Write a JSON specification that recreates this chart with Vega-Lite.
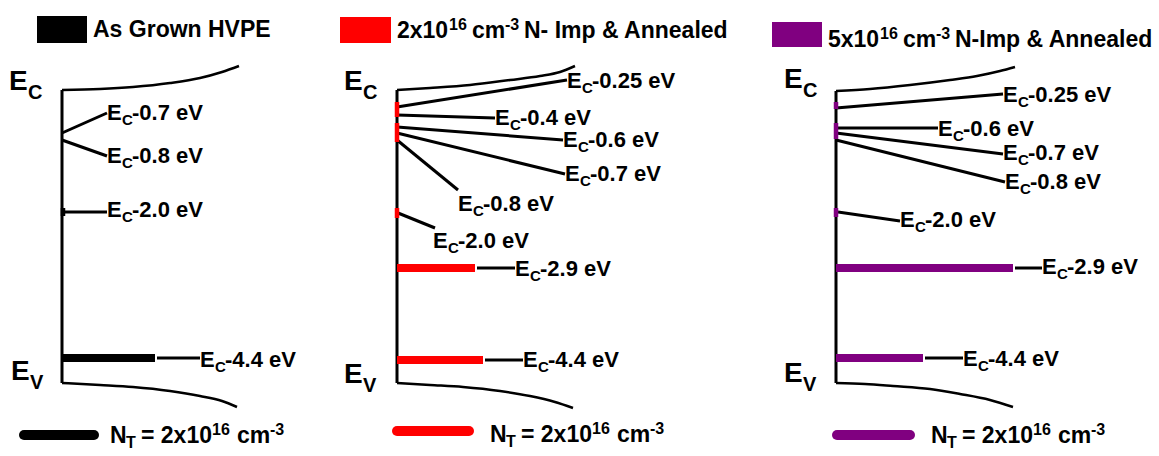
{
  "$schema": "https://vega.github.io/schema/vega-lite/v6.json",
  "width": 1159,
  "height": 456,
  "autosize": {"type": "fit", "contains": "padding"},
  "padding": 0,
  "background": "white",
  "config": {
    "view": {"stroke": null},
    "text": {"font": "Liberation Sans", "fontWeight": "bold", "fontSize": 23, "baseline": "alphabetic", "align": "left", "color": "black"}
  },
  "datasets": {
    "curves": [
      {"sample": "as-grown", "curve": "ag-c", "x": 62, "y": 90},
      {"sample": "as-grown", "curve": "ag-c", "x": 100, "y": 89},
      {"sample": "as-grown", "curve": "ag-c", "x": 133, "y": 87},
      {"sample": "as-grown", "curve": "ag-c", "x": 170, "y": 83},
      {"sample": "as-grown", "curve": "ag-c", "x": 200, "y": 78},
      {"sample": "as-grown", "curve": "ag-c", "x": 222, "y": 72},
      {"sample": "as-grown", "curve": "ag-c", "x": 239, "y": 66},
      {"sample": "as-grown", "curve": "ag-v", "x": 62, "y": 383},
      {"sample": "as-grown", "curve": "ag-v", "x": 100, "y": 385},
      {"sample": "as-grown", "curve": "ag-v", "x": 133, "y": 387},
      {"sample": "as-grown", "curve": "ag-v", "x": 170, "y": 391},
      {"sample": "as-grown", "curve": "ag-v", "x": 200, "y": 396},
      {"sample": "as-grown", "curve": "ag-v", "x": 222, "y": 401},
      {"sample": "as-grown", "curve": "ag-v", "x": 237, "y": 407},
      {"sample": "2e16", "curve": "n2-c", "x": 397, "y": 90},
      {"sample": "2e16", "curve": "n2-c", "x": 430, "y": 88},
      {"sample": "2e16", "curve": "n2-c", "x": 470, "y": 85},
      {"sample": "2e16", "curve": "n2-c", "x": 510, "y": 80},
      {"sample": "2e16", "curve": "n2-c", "x": 540, "y": 76},
      {"sample": "2e16", "curve": "n2-c", "x": 560, "y": 72},
      {"sample": "2e16", "curve": "n2-c", "x": 575, "y": 66},
      {"sample": "2e16", "curve": "n2-v", "x": 397, "y": 383},
      {"sample": "2e16", "curve": "n2-v", "x": 430, "y": 385},
      {"sample": "2e16", "curve": "n2-v", "x": 463, "y": 387},
      {"sample": "2e16", "curve": "n2-v", "x": 500, "y": 391},
      {"sample": "2e16", "curve": "n2-v", "x": 530, "y": 396},
      {"sample": "2e16", "curve": "n2-v", "x": 555, "y": 402},
      {"sample": "2e16", "curve": "n2-v", "x": 573, "y": 408},
      {"sample": "5e16", "curve": "n5-c", "x": 836, "y": 91},
      {"sample": "5e16", "curve": "n5-c", "x": 870, "y": 89},
      {"sample": "5e16", "curve": "n5-c", "x": 910, "y": 85},
      {"sample": "5e16", "curve": "n5-c", "x": 950, "y": 80},
      {"sample": "5e16", "curve": "n5-c", "x": 977, "y": 76},
      {"sample": "5e16", "curve": "n5-c", "x": 1000, "y": 71},
      {"sample": "5e16", "curve": "n5-c", "x": 1015, "y": 67},
      {"sample": "5e16", "curve": "n5-v", "x": 836, "y": 383},
      {"sample": "5e16", "curve": "n5-v", "x": 865, "y": 384},
      {"sample": "5e16", "curve": "n5-v", "x": 893, "y": 386},
      {"sample": "5e16", "curve": "n5-v", "x": 930, "y": 389},
      {"sample": "5e16", "curve": "n5-v", "x": 960, "y": 394},
      {"sample": "5e16", "curve": "n5-v", "x": 990, "y": 400},
      {"sample": "5e16", "curve": "n5-v", "x": 1013, "y": 407}
    ],
    "axes": [
      {"sample": "as-grown", "x": 62, "y": 90, "y2": 383},
      {"sample": "2e16", "x": 397, "y": 90, "y2": 383},
      {"sample": "5e16", "x": 836, "y": 91, "y2": 383}
    ],
    "connectors": [
      {"sample": "as-grown", "level": "0.7", "x": 62, "y": 133, "x2": 107, "y2": 113},
      {"sample": "as-grown", "level": "0.8", "x": 62, "y": 140, "x2": 107, "y2": 156},
      {"sample": "as-grown", "level": "2.0", "x": 62, "y": 212, "x2": 107, "y2": 212},
      {"sample": "as-grown", "level": "4.4", "x": 157, "y": 358, "x2": 200, "y2": 358},
      {"sample": "2e16", "level": "0.25", "x": 397, "y": 107, "x2": 567, "y2": 80},
      {"sample": "2e16", "level": "0.4", "x": 397, "y": 115, "x2": 495, "y2": 118},
      {"sample": "2e16", "level": "0.6", "x": 397, "y": 127, "x2": 563, "y2": 140},
      {"sample": "2e16", "level": "0.7", "x": 397, "y": 133, "x2": 565, "y2": 174},
      {"sample": "2e16", "level": "0.8", "x": 397, "y": 140, "x2": 458, "y2": 190},
      {"sample": "2e16", "level": "2.0", "x": 398, "y": 213, "x2": 435, "y2": 228},
      {"sample": "2e16", "level": "2.9", "x": 477, "y": 268, "x2": 515, "y2": 268},
      {"sample": "2e16", "level": "4.4", "x": 485, "y": 360, "x2": 523, "y2": 360},
      {"sample": "5e16", "level": "0.25", "x": 836, "y": 108, "x2": 1003, "y2": 94},
      {"sample": "5e16", "level": "0.6", "x": 838, "y": 128, "x2": 938, "y2": 128},
      {"sample": "5e16", "level": "0.7", "x": 836, "y": 133, "x2": 1003, "y2": 154},
      {"sample": "5e16", "level": "0.8", "x": 836, "y": 140, "x2": 1005, "y2": 182},
      {"sample": "5e16", "level": "2.0", "x": 838, "y": 212, "x2": 900, "y2": 221},
      {"sample": "5e16", "level": "2.9", "x": 1015, "y": 268, "x2": 1042, "y2": 268},
      {"sample": "5e16", "level": "4.4", "x": 925, "y": 358, "x2": 963, "y2": 358}
    ],
    "bars": [
      {"sample": "as-grown", "level": "4.4", "x": 62, "x2": 155, "y": 358},
      {"sample": "2e16", "level": "2.9", "x": 397, "x2": 475, "y": 268},
      {"sample": "2e16", "level": "4.4", "x": 397, "x2": 483, "y": 360},
      {"sample": "5e16", "level": "2.9", "x": 836, "x2": 1013, "y": 268},
      {"sample": "5e16", "level": "4.4", "x": 836, "x2": 923, "y": 358}
    ],
    "ticks": [
      {"sample": "as-grown", "x": 63, "y": 208, "y2": 216},
      {"sample": "2e16", "x": 397, "y": 102, "y2": 117},
      {"sample": "2e16", "x": 397, "y": 123, "y2": 142},
      {"sample": "2e16", "x": 397, "y": 208, "y2": 218},
      {"sample": "5e16", "x": 836, "y": 102, "y2": 109},
      {"sample": "5e16", "x": 836, "y": 123, "y2": 139},
      {"sample": "5e16", "x": 836, "y": 208, "y2": 217}
    ],
    "levels": [
      {"sample": "as-grown", "x": 107, "y": 112, "val": "-0.7 eV"},
      {"sample": "as-grown", "x": 107, "y": 155, "val": "-0.8 eV"},
      {"sample": "as-grown", "x": 107, "y": 209, "val": "-2.0 eV"},
      {"sample": "as-grown", "x": 200, "y": 359, "val": "-4.4 eV"},
      {"sample": "2e16", "x": 567, "y": 80, "val": "-0.25 eV"},
      {"sample": "2e16", "x": 495, "y": 117, "val": "-0.4 eV"},
      {"sample": "2e16", "x": 563, "y": 139, "val": "-0.6 eV"},
      {"sample": "2e16", "x": 565, "y": 173, "val": "-0.7 eV"},
      {"sample": "2e16", "x": 458, "y": 203, "val": "-0.8 eV"},
      {"sample": "2e16", "x": 433, "y": 240, "val": "-2.0 eV"},
      {"sample": "2e16", "x": 515, "y": 268, "val": "-2.9 eV"},
      {"sample": "2e16", "x": 523, "y": 359, "val": "-4.4 eV"},
      {"sample": "5e16", "x": 1003, "y": 94, "val": "-0.25 eV"},
      {"sample": "5e16", "x": 938, "y": 128, "val": "-0.6 eV"},
      {"sample": "5e16", "x": 1003, "y": 152, "val": "-0.7 eV"},
      {"sample": "5e16", "x": 1005, "y": 181, "val": "-0.8 eV"},
      {"sample": "5e16", "x": 900, "y": 219, "val": "-2.0 eV"},
      {"sample": "5e16", "x": 1042, "y": 266, "val": "-2.9 eV"},
      {"sample": "5e16", "x": 963, "y": 358, "val": "-4.4 eV"}
    ],
    "bandEdges": [
      {"sample": "as-grown", "band": "C", "x": 9, "y": 90},
      {"sample": "as-grown", "band": "V", "x": 11, "y": 380},
      {"sample": "2e16", "band": "C", "x": 344, "y": 90},
      {"sample": "2e16", "band": "V", "x": 344, "y": 383},
      {"sample": "5e16", "band": "C", "x": 784, "y": 88},
      {"sample": "5e16", "band": "V", "x": 784, "y": 382}
    ],
    "legendBoxes": [
      {"sample": "as-grown", "x": 37, "x2": 87, "y": 16, "y2": 43},
      {"sample": "2e16", "x": 340, "x2": 391, "y": 17, "y2": 43},
      {"sample": "5e16", "x": 772, "x2": 822, "y": 22, "y2": 47}
    ],
    "titlePlain": [
      {"sample": "as-grown", "x": 93, "y": 37, "label": "As Grown HVPE"}
    ],
    "titleSup": [
      {"sample": "2e16", "x": 397, "y": 38, "mantissa": "2x10", "exponent": "16", "unit": "cm", "unitExp": "-3", "rest": "N- Imp & Annealed"},
      {"sample": "5e16", "x": 828, "y": 47, "mantissa": "5x10", "exponent": "16", "unit": "cm", "unitExp": "-3", "rest": "N-Imp & Annealed"}
    ],
    "legendLines": [
      {"sample": "as-grown", "x": 24, "x2": 94, "y": 435},
      {"sample": "2e16", "x": 397, "x2": 469, "y": 431},
      {"sample": "5e16", "x": 837, "x2": 910, "y": 435}
    ],
    "ntLegend": [
      {"sample": "as-grown", "x": 110, "y": 443, "n": "N", "t": "T", "eq": "= 2x10", "exp": "16", "unit": "cm", "uexp": "-3"},
      {"sample": "2e16", "x": 490, "y": 442, "n": "N", "t": "T", "eq": "= 2x10", "exp": "16", "unit": "cm", "uexp": "-3"},
      {"sample": "5e16", "x": 931, "y": 443, "n": "N", "t": "T", "eq": "= 2x10", "exp": "16", "unit": "cm", "uexp": "-3"}
    ]
  },
  "encoding": {
    "x": {"field": "x", "type": "quantitative", "scale": {"domain": [0, 1159], "nice": false, "zero": false}, "axis": null},
    "y": {"field": "y", "type": "quantitative", "scale": {"domain": [0, 456], "nice": false, "zero": false, "reverse": true}, "axis": null}
  },
  "layer": [
    {
      "data": {"name": "curves"},
      "mark": {"type": "line", "color": "black", "strokeWidth": 2.5, "interpolate": "monotone"},
      "encoding": {"detail": {"field": "curve", "type": "nominal"}}
    },
    {
      "data": {"name": "axes"},
      "mark": {"type": "rule", "color": "black", "strokeWidth": 3},
      "encoding": {"y2": {"field": "y2"}}
    },
    {
      "data": {"name": "connectors"},
      "mark": {"type": "rule", "color": "black", "strokeWidth": 3},
      "encoding": {"x2": {"field": "x2"}, "y2": {"field": "y2"}}
    },
    {
      "data": {"name": "bars"},
      "mark": {"type": "rule", "strokeWidth": 8},
      "encoding": {
        "x2": {"field": "x2"},
        "color": {"field": "sample", "type": "nominal", "scale": {"domain": ["as-grown", "2e16", "5e16"], "range": ["#000000", "#ff0000", "#800080"]}, "legend": null}
      }
    },
    {
      "data": {"name": "ticks"},
      "mark": {"type": "rule", "strokeWidth": 4.5},
      "encoding": {
        "y2": {"field": "y2"},
        "color": {"field": "sample", "type": "nominal", "scale": {"domain": ["as-grown", "2e16", "5e16"], "range": ["#000000", "#ff0000", "#800080"]}, "legend": null}
      }
    },
    {
      "data": {"name": "legendBoxes"},
      "mark": {"type": "rect"},
      "encoding": {
        "x2": {"field": "x2"},
        "y2": {"field": "y2"},
        "color": {"field": "sample", "type": "nominal", "scale": {"domain": ["as-grown", "2e16", "5e16"], "range": ["#000000", "#ff0000", "#800080"]}, "legend": null}
      }
    },
    {
      "data": {"name": "legendLines"},
      "mark": {"type": "rule", "strokeWidth": 10, "strokeCap": "round"},
      "encoding": {
        "x2": {"field": "x2"},
        "color": {"field": "sample", "type": "nominal", "scale": {"domain": ["as-grown", "2e16", "5e16"], "range": ["#000000", "#ff0000", "#800080"]}, "legend": null}
      }
    },
    {
      "data": {"name": "levels"},
      "mark": {"type": "text", "dy": 8, "fontSize": 22},
      "encoding": {"text": {"value": "E"}}
    },
    {
      "data": {"name": "levels"},
      "mark": {"type": "text", "dx": 15, "dy": 13, "fontSize": 15},
      "encoding": {"text": {"value": "C"}}
    },
    {
      "data": {"name": "levels"},
      "mark": {"type": "text", "dx": 25, "dy": 8, "fontSize": 22},
      "encoding": {"text": {"field": "val"}}
    },
    {
      "data": {"name": "bandEdges"},
      "mark": {"type": "text", "fontSize": 28},
      "encoding": {"text": {"value": "E"}}
    },
    {
      "data": {"name": "bandEdges"},
      "mark": {"type": "text", "fontSize": 20, "dx": 19, "dy": 9},
      "encoding": {"text": {"field": "band"}}
    },
    {
      "data": {"name": "titlePlain"},
      "mark": {"type": "text"},
      "encoding": {"text": {"field": "label"}}
    },
    {
      "data": {"name": "titleSup"},
      "mark": {"type": "text"},
      "encoding": {"text": {"field": "mantissa"}}
    },
    {
      "data": {"name": "titleSup"},
      "mark": {"type": "text", "dx": 52, "dy": -8, "fontSize": 16},
      "encoding": {"text": {"field": "exponent"}}
    },
    {
      "data": {"name": "titleSup"},
      "mark": {"type": "text", "dx": 75},
      "encoding": {"text": {"field": "unit"}}
    },
    {
      "data": {"name": "titleSup"},
      "mark": {"type": "text", "dx": 108, "dy": -8, "fontSize": 16},
      "encoding": {"text": {"field": "unitExp"}}
    },
    {
      "data": {"name": "titleSup"},
      "mark": {"type": "text", "dx": 127},
      "encoding": {"text": {"field": "rest"}}
    },
    {
      "data": {"name": "ntLegend"},
      "mark": {"type": "text"},
      "encoding": {"text": {"field": "n"}}
    },
    {
      "data": {"name": "ntLegend"},
      "mark": {"type": "text", "dx": 16, "dy": 5, "fontSize": 16},
      "encoding": {"text": {"field": "t"}}
    },
    {
      "data": {"name": "ntLegend"},
      "mark": {"type": "text", "dx": 31},
      "encoding": {"text": {"field": "eq"}}
    },
    {
      "data": {"name": "ntLegend"},
      "mark": {"type": "text", "dx": 102, "dy": -8, "fontSize": 16},
      "encoding": {"text": {"field": "exp"}}
    },
    {
      "data": {"name": "ntLegend"},
      "mark": {"type": "text", "dx": 127},
      "encoding": {"text": {"field": "unit"}}
    },
    {
      "data": {"name": "ntLegend"},
      "mark": {"type": "text", "dx": 160, "dy": -8, "fontSize": 16},
      "encoding": {"text": {"field": "uexp"}}
    }
  ]
}
